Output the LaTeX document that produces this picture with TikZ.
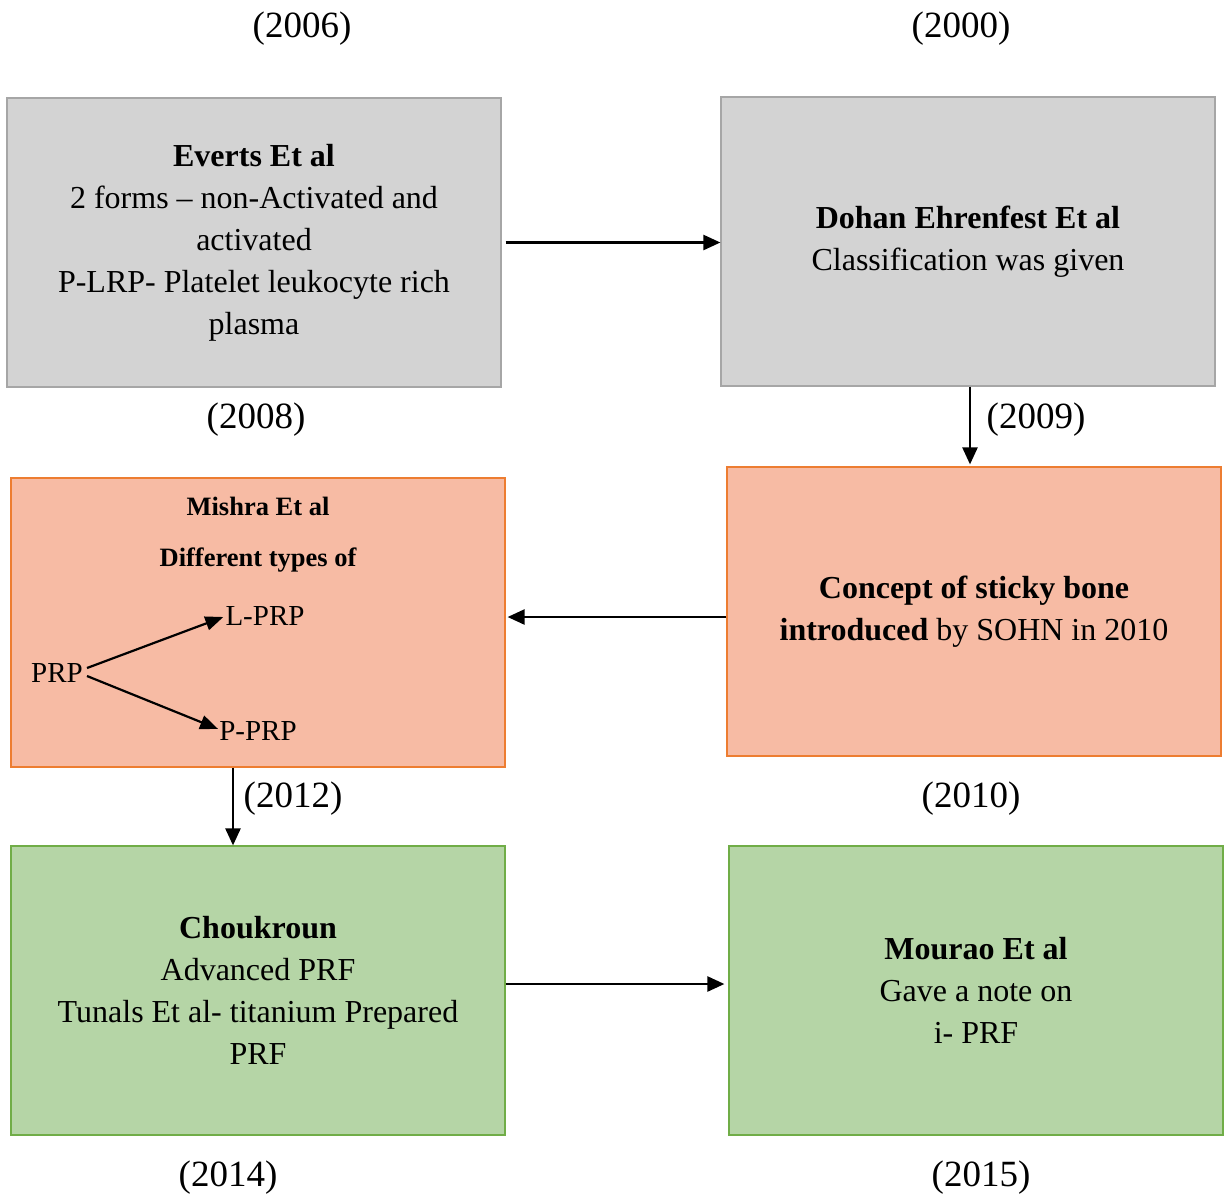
\documentclass[tikz,border=0pt]{standalone}
\usepackage{fontspec}
\setmainfont{Liberation Serif}
\usetikzlibrary{arrows.meta}
\definecolor{boxgray}{RGB}{211,211,211}
\definecolor{linegray}{RGB}{166,166,166}
\definecolor{boxsalmon}{RGB}{247,187,164}
\definecolor{lineorange}{RGB}{237,125,49}
\definecolor{boxgreen}{RGB}{181,213,166}
\definecolor{linegreen}{RGB}{112,173,71}
\begin{document}
\begin{tikzpicture}[x=1pt,y=-1pt,
  card/.style={rectangle, minimum width=494pt, minimum height=289pt, inner sep=0pt,
    line width=1.2pt, align=center, font=\fontsize{32}{42}\selectfont},
  graycard/.style={card, fill=boxgray, draw=linegray},
  salmoncard/.style={card, fill=boxsalmon, draw=lineorange},
  greencard/.style={card, fill=boxgreen, draw=linegreen},
  year/.style={font=\fontsize{37}{42}\selectfont, inner sep=0pt},
  small/.style={font=\fontsize{29}{34}\selectfont, inner sep=0pt},
  smallbold/.style={font=\fontsize{26.5}{30}\selectfont\bfseries, inner sep=0pt},
  arr/.style={line width=2.4pt, -{Triangle[length=17pt,width=15pt]}},
  subarr/.style={line width=2.2pt, -{Triangle[length=18pt,width=14pt]}}]
\useasboundingbox (0,0) rectangle (1225,1197);

% timeline cards
\node[graycard] (everts) at (254,242.5) {\textbf{Everts Et al}\\2 forms -- non-Activated and\\activated\\P-LRP- Platelet leukocyte rich\\plasma};
\node[graycard] (dohan) at (968,241.5) {\textbf{Dohan Ehrenfest Et al}\\Classification was given};
\node[salmoncard] (concept) at (974,611.5) {\textbf{Concept of sticky bone}\\\textbf{introduced} by SOHN in 2010};
\node[salmoncard] (mishra) at (258,622.5) {};
\node[greencard] (chouk) at (258,990.5) {\textbf{Choukroun}\\Advanced PRF\\Tunals Et al- titanium Prepared\\PRF};
\node[greencard] (mourao) at (976,990.5) {\textbf{Mourao Et al}\\Gave a note on\\i- PRF};

% contents of the Mishra card
\node[smallbold] (mishratitle) at (258,506) {Mishra Et al};
\node[smallbold] (mishratypes) at (258,560) {Different types of};
\node[small] (prp) at (57,673) {PRP};
\node[small] (lprp) at (265,616) {L-PRP};
\node[small] (pprp) at (258,731) {P-PRP};
\draw[subarr] ([xshift=4pt,yshift=5pt]prp.east) -- ([xshift=-2pt,yshift=-1pt]lprp.west);
\draw[subarr] ([xshift=4pt,yshift=-3pt]prp.east) -- ([xshift=-1pt,yshift=2pt]pprp.west);

% years
\node[year] (y2006) at (302,29) {(2006)};
\node[year] (y2000) at (961,29) {(2000)};
\node[year] (y2008) at (256,420) {(2008)};
\node[year] (y2009) at (1036,420) {(2009)};
\node[year] (y2012) at (293,799) {(2012)};
\node[year] (y2010) at (971,799) {(2010)};
\node[year] (y2014) at (228,1178) {(2014)};
\node[year] (y2015) at (981,1178) {(2015)};

% connectors between cards
\draw[arr, shorten <=4pt] (everts.east) -- (everts.east -| dohan.west);
\draw[arr, shorten >=2pt] ([xshift=2pt]dohan.south) -- ([xshift=2pt]dohan.south |- concept.north);
\draw[arr, shorten >=2pt] ([yshift=-5.5pt]concept.west) -- ([yshift=-5.5pt]concept.west -| mishra.east);
\draw[arr] ([xshift=-25pt]mishra.south) -- ([xshift=-25pt]mishra.south |- chouk.north);
\draw[arr, shorten >=4pt] ([yshift=6.5pt]chouk.east) -- ([yshift=6.5pt]chouk.east -| mourao.west);
\end{tikzpicture}
\end{document}
